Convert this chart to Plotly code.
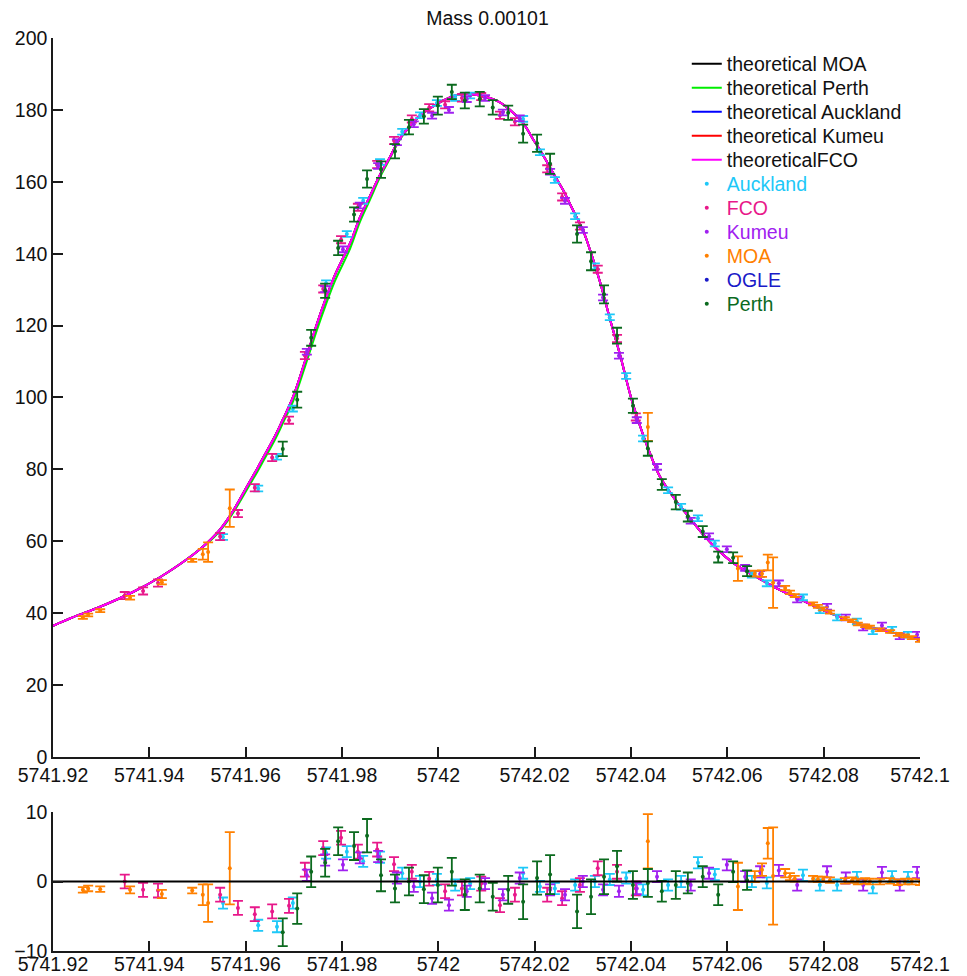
import plotly.graph_objects as go

# ---------------- data ----------------
x_ticks = [5741.92, 5741.94, 5741.96, 5741.98, 5742.0, 5742.02, 5742.04, 5742.06, 5742.08, 5742.1]
x_tick_labels = ["5741.92", "5741.94", "5741.96", "5741.98", "5742", "5742.02", "5742.04", "5742.06", "5742.08", "5742.1"]
y_ticks = [0, 20, 40, 60, 80, 100, 120, 140, 160, 180, 200]
r_ticks = [-10, 0, 10]

model_t = [5741.9200, 5741.9242, 5741.9298, 5741.9366, 5741.9422, 5741.9478, 5741.9505, 5741.9522,
           5741.9547, 5741.9567, 5741.9582, 5741.9603, 5741.9624, 5741.9634, 5741.9661, 5741.9677,
           5741.9698, 5741.9723, 5741.9748, 5741.9765, 5741.9785, 5741.9817, 5741.9837, 5741.9858,
           5741.9879, 5741.9900, 5741.9920, 5741.9941, 5741.9962, 5741.9989, 5742.0024, 5742.0055,
           5742.0086, 5742.0122, 5742.0149, 5742.0176, 5742.0196, 5742.0217, 5742.0238, 5742.0259,
           5742.0280, 5742.0300, 5742.0315, 5742.0336, 5742.0356, 5742.0377, 5742.0400, 5742.0419,
           5742.0435, 5742.0460, 5742.0495, 5742.0522, 5742.0549, 5742.0581, 5742.0612, 5742.0641,
           5742.0668, 5742.0709, 5742.0757, 5742.0809, 5742.0855, 5742.0882, 5742.0944, 5742.1000]
model_v = [36.5, 38.9, 41.8, 45.9, 50.0, 55.0, 57.8, 59.8,
           63.3, 67.0, 70.3, 75.3, 80.2, 82.7, 89.3, 93.8,
           100.0, 110.0, 120.5, 127.0, 134.0, 143.0, 150.0, 156.0,
           162.0, 167.0, 172.0, 175.5, 178.5, 181.0, 183.5, 184.5,
           184.0, 182.5, 180.0, 176.3, 172.0, 167.5, 162.5, 157.7,
           152.0, 146.6, 141.0, 132.0, 122.0, 112.0, 100.0, 92.0,
           86.0, 78.0, 71.0, 66.5, 62.0, 57.5, 54.0, 51.5,
           49.5, 46.5, 43.5, 40.3, 37.8, 36.5, 34.6, 32.5]
perth_model_v = [36.5, 38.9, 41.8, 45.9, 50.0, 55.0, 57.8, 59.6,
                 63.0, 66.5, 69.7, 74.5, 79.3, 81.7, 88.3, 92.8,
                 98.8, 108.5, 118.8, 125.3, 132.3, 141.5, 148.8, 155.0,
                 161.3, 166.6, 171.7, 175.3, 178.4, 181.0, 183.5, 184.5,
                 184.0, 182.5, 180.0, 176.3, 172.0, 167.5, 162.5, 157.7,
                 152.0, 146.6, 141.0, 132.0, 122.0, 112.0, 100.0, 92.0,
                 86.0, 78.0, 71.0, 66.5, 62.0, 57.5, 54.0, 51.5,
                 49.5, 46.5, 43.5, 40.3, 37.8, 36.5, 34.6, 32.5]

# Auckland
auck_t = [5741.9553, 5741.9626, 5741.9665, 5741.9698, 5741.9767, 5741.9810, 5741.9844, 5741.9879,
          5741.9925, 5741.9962, 5741.9997, 5742.0035, 5742.0066, 5742.0176, 5742.0211, 5742.0242,
          5742.0284, 5742.0325, 5742.0356, 5742.0390, 5742.0425, 5742.0477, 5742.0504, 5742.0539,
          5742.0574, 5742.0651, 5742.0682, 5742.0757, 5742.0792, 5742.0828, 5742.0869, 5742.0902,
          5742.0942, 5742.0975]
auck_f = [61.2, 74.7, 83.5, 96.9, 131.8, 145.5, 154.7, 165.5,
          173.9, 178.5, 181.9, 183.3, 184.0, 177.5, 168.2, 160.5,
          150.4, 136.5, 122.3, 106.0, 88.6, 74.2, 69.6, 66.4,
          59.4, 50.7, 48.3, 44.4, 40.8, 38.8, 37.7, 35.0,
          35.4, 34.0]
auck_r = [-3.1, -6.3, -6.5, -3.1, 4.1, 4.3, 2.9, 3.5,
          1.2, 0.0, 0.3, -0.5, -0.3, 1.2, -0.7, -1.0,
          -0.5, 0.0, 0.3, 0.5, -1.2, -0.5, 0.0, 2.7,
          1.0, 0.0, -0.2, 0.9, -0.5, -0.5, 0.6, -0.9,
          0.7, 0.6]
auck_e = [0.8] * len(auck_t)

# FCO
fco_t = [5741.9349, 5741.9387, 5741.9418, 5741.9547, 5741.9584, 5741.9619, 5741.9655, 5741.9690,
         5741.9723, 5741.9761, 5741.9798, 5741.9833, 5741.9873, 5741.9908, 5741.9945, 5741.9981,
         5742.0014, 5742.0049, 5742.0089, 5742.0128, 5742.0159, 5742.0226, 5742.0257, 5742.0294,
         5742.0331, 5742.0371, 5742.0410]
fco_f = [44.9, 46.2, 48.4, 61.3, 67.7, 74.9, 83.3, 93.7,
         111.7, 130.2, 143.9, 152.9, 164.8, 171.5, 177.5, 180.6,
         181.4, 183.3, 183.7, 178.5, 176.7, 163.6, 155.8, 147.7,
         135.7, 116.4, 94.6]
fco_r = [0.0, -1.2, -1.3, -1.9, -3.8, -4.7, -4.3, -3.5,
         1.7, 4.8, 6.3, 4.3, 4.6, 2.5, 1.4, 0.4,
         -1.4, -1.0, -0.3, -3.4, -1.9, -1.9, -2.4, -0.5,
         1.9, 1.4, -1.0]
fco_e = [1.0] * len(fco_t)

# Kumeu
kum_t = [5741.9727, 5741.9765, 5741.9802, 5741.9837, 5741.9875, 5741.9914, 5741.9949, 5741.9987,
         5742.0022, 5742.0059, 5742.0097, 5742.0134, 5742.0169, 5742.0232, 5742.0263, 5742.0300,
         5742.0342, 5742.0375, 5742.0412, 5742.0454, 5742.0524, 5742.0562, 5742.0599, 5742.0637,
         5742.0668, 5742.0707, 5742.0745, 5742.0807, 5742.0846, 5742.0882, 5742.0921, 5742.0958,
         5742.0994]
kum_f = [112.7, 130.1, 141.2, 153.4, 164.4, 171.0, 176.0, 178.4,
         180.0, 183.0, 183.3, 179.3, 177.7, 162.8, 154.7, 146.6,
         127.8, 111.6, 93.7, 80.7, 65.7, 61.4, 57.8, 52.6,
         50.9, 48.3, 43.8, 41.8, 38.8, 36.0, 36.6, 33.6,
         34.0]
kum_r = [0.9, 3.1, 2.4, 3.4, 3.6, 0.5, -0.7, -2.4,
         -3.4, -1.4, -0.3, -1.9, 0.5, -1.2, -1.9, 0.0,
         -1.2, -1.4, -1.0, 0.7, -0.5, 1.2, 2.4, 0.7,
         1.4, 1.6, -0.5, 1.4, 0.5, -0.5, 1.3, -0.5,
         1.3]
kum_e = [0.8] * len(kum_t)

# MOA
moa_t = [5741.9262, 5741.9273, 5741.9298, 5741.9360, 5741.9426, 5741.9489, 5741.9511, 5741.9522,
         5741.9567, 5742.0435, 5742.0622, 5742.0657, 5742.0672, 5742.0684, 5742.0695, 5742.0720,
         5742.0730, 5742.0740, 5742.0778, 5742.0788, 5742.0799, 5742.0813, 5742.0844, 5742.0859,
         5742.0871, 5742.0886, 5742.0896, 5742.0917, 5742.0938, 5742.0954, 5742.0969, 5742.0983,
         5742.1000]
moa_f = [38.8, 39.5, 40.7, 44.3, 48.6, 54.7, 56.4, 57.0,
         69.2, 91.8, 52.4, 51.0, 51.0, 54.1, 48.5, 47.0,
         45.8, 44.9, 42.6, 41.9, 41.2, 40.3, 38.5, 37.9,
         37.0, 36.5, 36.1, 35.4, 34.9, 34.1, 33.7, 33.2,
         32.4]
moa_r = [-1.2, -1.0, -1.1, -1.2, -1.8, -1.3, -1.9, -3.1,
         1.9, 5.8, -0.7, 0.7, 1.7, 5.5, 0.8, 1.2,
         0.7, 0.4, 0.4, 0.3, 0.3, 0.2, 0.1, 0.2,
         0.0, 0.1, 0.0, 0.0, 0.1, -0.1, 0.0, 0.0,
         -0.1]
moa_e = [0.4, 0.4, 0.4, 0.5, 0.6, 0.4, 1.5, 2.7,
         5.2, 3.9, 3.4, 0.8, 0.9, 2.2, 7.0, 0.6,
         0.5, 0.4, 0.4, 0.4, 0.4, 0.4, 0.4, 0.4,
         0.4, 0.4, 0.4, 0.4, 0.4, 0.4, 0.4, 0.4,
         0.4]

# OGLE (no points visible in this window; legend entry only)
ogle_t = []
ogle_f = []
ogle_r = []
ogle_e = []

# Perth
perth_t = [5741.9677, 5741.9707, 5741.9736, 5741.9765, 5741.9792, 5741.9825, 5741.9852, 5741.9881,
           5741.9910, 5741.9939, 5741.9970, 5741.9999, 5742.0028, 5742.0055, 5742.0086, 5742.0113,
           5742.0145, 5742.0176, 5742.0205, 5742.0232, 5742.0288, 5742.0317, 5742.0344, 5742.0371,
           5742.0404, 5742.0435, 5742.0464, 5742.0493, 5742.0518, 5742.0549, 5742.0581, 5742.0612,
           5742.0641]
perth_f = [85.7, 99.4, 116.6, 129.7, 141.6, 150.9, 160.8, 163.4,
           168.5, 175.2, 178.2, 181.2, 185.0, 182.6, 183.0, 180.7,
           179.2, 173.4, 170.7, 165.0, 145.5, 137.9, 128.7, 117.2,
           97.7, 85.8, 75.8, 70.9, 67.0, 62.7, 55.6, 55.4,
           51.7]
perth_r = [-7.3, -3.9, 1.4, 2.7, 5.8, 5.1, 6.6, 0.9,
           -1.0, 0.0, -1.1, -0.5, 1.4, -1.9, -1.0, -2.2,
           -1.2, -2.9, 0.5, 1.0, -4.3, -2.2, 0.7, 2.2,
           -0.5, -0.2, -1.4, -0.5, -0.2, 0.7, -1.9, 1.4,
           0.2]
perth_e = [2.0, 2.2, 2.2, 2.0, 2.0, 2.0, 2.4, 2.3,
           2.0, 2.0, 2.0, 2.5, 2.0, 2.2, 2.0, 2.0,
           2.0, 2.5, 2.4, 2.8, 2.4, 2.5, 2.5, 2.2,
           2.0, 2.0, 1.5, 2.0, 1.5, 1.5, 1.5, 1.5,
           1.4]

# ---------------- figure ----------------
FONT = "Liberation Sans, Arial, sans-serif"
FS = 19.5
fig = go.Figure()

model_lines = [
    ("theoretical MOA", "#000000", model_v),
    ("theoretical Perth", "#00EE00", perth_model_v),
    ("theoretical Auckland", "#0000FF", model_v),
    ("theoretical Kumeu", "#FF0000", model_v),
    ("theoreticalFCO", "#FF00FF", model_v),
]
datasets = [
    ("Auckland", "#1EC8F8", auck_t, auck_f, auck_r, auck_e),
    ("FCO", "#E8188A", fco_t, fco_f, fco_r, fco_e),
    ("Kumeu", "#A020F0", kum_t, kum_f, kum_r, kum_e),
    ("MOA", "#FF8000", moa_t, moa_f, moa_r, moa_e),
    ("OGLE", "#1A1AC8", ogle_t, ogle_f, ogle_r, ogle_e),
    ("Perth", "#0B6A1E", perth_t, perth_f, perth_r, perth_e),
]

# legend rows (one small legend per entry, stacked like the original)
PLOT_TOP, PLOT_BOTTOM = 38, 951
legend_rows_px = [64, 88, 112, 136, 160, 184, 208, 232, 256, 280, 304]
legend_layouts = {}
for i, py in enumerate(legend_rows_px):
    key = "legend" if i == 0 else "legend%d" % (i + 1)
    legend_layouts[key] = dict(
        x=0.731, y=(PLOT_BOTTOM - py) / (PLOT_BOTTOM - PLOT_TOP),
        xanchor="left", yanchor="middle", bgcolor="rgba(0,0,0,0)", borderwidth=0,
        font=dict(family=FONT, size=FS, color="#111111"))

def legend_ref(i):
    return "legend" if i == 0 else "legend%d" % (i + 1)

for i, (name, col, vals) in enumerate(model_lines):
    fig.add_trace(go.Scatter(x=model_t, y=vals, mode="lines", name=name,
                             legend=legend_ref(i),
                             line=dict(color=col, width=2, shape="spline", smoothing=1.0),
                             xaxis="x", yaxis="y"))

for j, (name, col, t, f, r, e) in enumerate(datasets):
    tt = t if len(t) else [None]
    ff = f if len(f) else [None]
    rr = r if len(r) else [None]
    ee = e if len(e) else [0]
    fig.add_trace(go.Scatter(
        x=tt, y=ff, mode="markers", legend=legend_ref(5 + j),
        name='<span style="color:%s">%s</span>' % (col, name),
        marker=dict(color=col, size=4, symbol="circle"),
        error_y=dict(type="data", array=ee, color=col, thickness=1.8, width=5),
        xaxis="x", yaxis="y"))
    fig.add_trace(go.Scatter(
        x=tt, y=rr, mode="markers", showlegend=False,
        marker=dict(color=col, size=4, symbol="circle"),
        error_y=dict(type="data", array=ee, color=col, thickness=1.8, width=5),
        xaxis="x2", yaxis="y2"))

# zero residual line
fig.add_trace(go.Scatter(x=[x_ticks[0], x_ticks[-1]], y=[0, 0], mode="lines",
                         line=dict(color="#000000", width=2), showlegend=False,
                         xaxis="x2", yaxis="y2"))

axis_common = dict(showgrid=False, zeroline=False, showline=True, linecolor="#1a1a1a",
                   linewidth=1.5, ticks="inside", ticklen=10, tickwidth=1.5, automargin=False,
                   tickcolor="#1a1a1a", tickfont=dict(family=FONT, size=FS, color="#111111"))

fig.update_layout(
    width=959, height=968,
    margin=dict(l=45, r=47, t=30, b=25, autoexpand=False),
    paper_bgcolor="white", plot_bgcolor="white",
    font=dict(family=FONT, size=FS, color="#111111"),
    title=dict(text="Mass 0.00101", x=0.5, xanchor="center", y=0.997, yanchor="top",
               font=dict(family=FONT, size=FS, color="#111111")),
    showlegend=True,
    xaxis=dict(domain=[0, 1], anchor="y", range=[x_ticks[0], x_ticks[-1]],
               tickvals=x_ticks, ticktext=x_tick_labels, **axis_common),
    yaxis=dict(domain=[0.2125, 1.0], anchor="x", range=[0, 200],
               tickvals=y_ticks, **axis_common),
    xaxis2=dict(domain=[0, 1], anchor="y2", range=[x_ticks[0], x_ticks[-1]],
                tickvals=x_ticks, ticktext=x_tick_labels, ticklabelstandoff=-5, **axis_common),
    yaxis2=dict(domain=[0, 0.1522], anchor="x2", range=[-10, 10],
                tickvals=r_ticks, **axis_common),
    **legend_layouts,
)

fig.write_html("out.html")
